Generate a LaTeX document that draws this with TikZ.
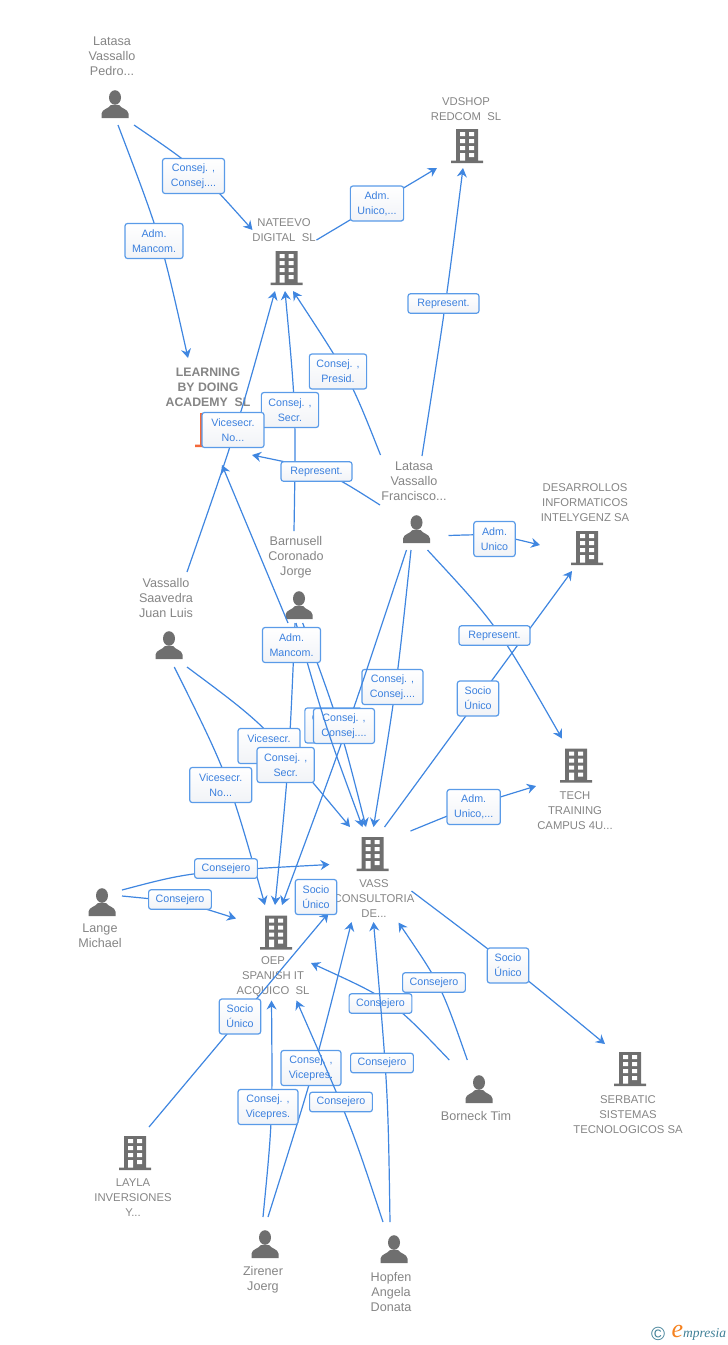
\documentclass[tikz,border=0pt]{standalone}
\usepackage{fontspec}
\setmainfont{Liberation Sans}
\newfontfamily\logofont{Liberation Serif}
\usetikzlibrary{arrows.meta}
\definecolor{txtgray}{HTML}{858585}
\definecolor{icongray}{HTML}{6F6F6F}
\definecolor{linkblue}{HTML}{3F86E0}
\definecolor{boxblue}{HTML}{5A9BE8}
\definecolor{lbltext}{HTML}{3B80DE}
\definecolor{boxlow}{HTML}{F1F3F7}
\definecolor{orangeicon}{HTML}{F4693A}
\definecolor{logoteal}{HTML}{3F7F96}
\definecolor{logoorange}{HTML}{F58220}
\tikzset{
	link/.style={draw=linkblue,line width=1.2pt},
	tolink/.style={link,-{Stealth[length=9pt,width=10pt,inset=3pt]}},
	lbl/.style={draw=boxblue,line width=1.2pt,rounded corners=2.5pt,top color=white,bottom color=boxlow,
		text=lbltext,align=center,font=\fontsize{10.7}{15}\selectfont,inner xsep=7pt,inner ysep=0pt},
	lblone/.style={lbl,minimum height=19.5pt},
	lbltwo/.style={lbl,minimum height=35pt},
	pertxt/.style={text=txtgray,align=center,inner sep=0pt,font=\fontsize{12.6}{15}\selectfont},
	comtxt/.style={text=txtgray,align=center,inner sep=0pt,yshift=-1pt,font=\fontsize{11.3}{15}\selectfont},
	person/.style={minimum width=28pt,minimum height=28pt,inner sep=0pt,path picture={
		\fill[icongray,shift={(path picture bounding box.center)}] (0,-6.5) ellipse [x radius=6,y radius=7.3]
			(-13.5,14) -- (-13.5,9.5) .. controls (-13,5) and (-6,4.5) .. (-4,1) -- (4,1) .. controls (6,4.5) and (13,5) .. (13.5,9.5) -- (13.5,14) -- cycle;}},
	building/.style={minimum width=33pt,minimum height=35pt,inner sep=0pt,path picture={
		\begin{scope}[shift={(path picture bounding box.center)}]
			\fill[#1] (-11,-17) rectangle (11,15.5) (-16,14.5) rectangle (16,17);
			\fill[white] (-7,-14) rectangle (-2,-10) (2,-14) rectangle (7,-10)
				(-7,-7) rectangle (-2,-3) (2,-7) rectangle (7,-3)
				(-7,0) rectangle (-2,4) (2,0) rectangle (7,4)
				(-7,7) rectangle (-2,14.5) (2,7) rectangle (7,11);
		\end{scope}}},
	building/.default=icongray
}
\begin{document}
\begin{tikzpicture}[x=1pt,y=-1pt]
	\useasboundingbox (0,0) rectangle (728,1345);
	% people
	\node[person] (pedro) at (115,104) {};
	\node[pertxt] (pedrotxt) at (112,56) {Latasa\\Vassallo\\Pedro...};
	\node[person] (francisco) at (416.5,529) {};
	\node[pertxt] (franciscotxt) at (414,481) {Latasa\\Vassallo\\Francisco...};
	\node[person] (barnusell) at (299,605) {};
	\node[pertxt] (barnuselltxt) at (296,557) {Barnusell\\Coronado\\Jorge};
	\node[person] (juanluis) at (169,645) {};
	\node[pertxt] (juanluistxt) at (166,598) {Vassallo\\Saavedra\\Juan Luis};
	\node[person] (lange) at (102,902) {};
	\node[pertxt] (langetxt) at (100,936) {Lange\\Michael};
	\node[person] (borneck) at (479,1089) {};
	\node[pertxt] (borntxt) at (476,1116) {Borneck Tim};
	\node[person] (zirener) at (265,1244) {};
	\node[pertxt] (zirenertxt) at (263,1279.5) {Zirener\\Joerg};
	\node[person] (hopfen) at (394,1249) {};
	\node[pertxt] (hopfentxt) at (391,1292) {Hopfen\\Angela\\Donata};
	% companies
	\node[building] (vdshop) at (467,146) {};
	\node[comtxt] (vdshoptxt) at (466,108) {VDSHOP\\REDCOM~~SL};
	\node[building] (nateevo) at (286.5,268) {};
	\node[comtxt] (nateevotxt) at (284,229.5) {NATEEVO\\DIGITAL~~SL};
	\node[building=orangeicon] (learning) at (211,430) {};
	\node[comtxt,font=\fontsize{12.3}{15}\selectfont\bfseries] (learningtxt) at (208,386) {LEARNING\\BY DOING\\ACADEMY~~SL};
	\node[building] (desarrollos) at (587,548) {};
	\node[comtxt] (desarrollostxt) at (585,502) {DESARROLLOS\\INFORMATICOS\\INTELYGENZ SA};
	\node[building] (tech) at (576,765.5) {};
	\node[comtxt] (techtxt) at (575,810) {TECH\\TRAINING\\CAMPUS 4U...};
	\node[building] (vass) at (372.5,854) {};
	\node[comtxt] (vasstxt) at (374,898) {VASS\\CONSULTORIA\\DE...};
	\node[building] (oep) at (276,932.5) {};
	\node[comtxt] (oeptxt) at (273,976) {OEP\\SPANISH IT\\ACQUICO~~SL};
	\node[building] (serbatic) at (630,1069) {};
	\node[comtxt] (serbatictxt) at (628,1114) {SERBATIC\\SISTEMAS\\TECNOLOGICOS SA};
	\node[building] (layla) at (135,1153) {};
	\node[comtxt] (laylatxt) at (133,1197) {LAYLA\\INVERSIONES\\Y...};
	% upper part
	\draw[tolink] ([shift={(19,21)}]pedro.center) .. controls (197,168) .. ([shift={(-34,-38)}]nateevo.center)
		node[lbltwo,minimum width=62pt] (consejA) at (193.5,176) {Consej. ,\\Consej....};
	\draw[tolink] ([shift={(3,21)}]pedro.center) .. controls (161,238) .. ([shift={(-23,-72)}]learning.center)
		node[lbltwo] (mancomA) at (154,241) {Adm.\\Mancom.};
	\draw[tolink] ([shift={(30,-28)}]nateevo.center) -- ([shift={(-30,22)}]vdshop.center)
		node[lbltwo] (unicoA) at (377,203.5) {Adm.\\Unico,...};
	\draw[tolink] ([shift={(5.5,-73)}]francisco.center) .. controls (446,303) .. ([shift={(-4,22)}]vdshop.center)
		node[lblone,minimum width=71pt] (represA) at (443.5,303.5) {Represent.};
	\draw[tolink] ([shift={(-36,-74)}]francisco.center) .. controls (350,378) .. ([shift={(6.5,23)}]nateevo.center)
		node[lbltwo] (presid) at (338,371.5) {Consej. ,\\Presid.};
	\draw[tolink] ([shift={(-5,-74)}]barnusell.center) .. controls (296,410) .. ([shift={(-1.5,23)}]nateevo.center)
		node[lbltwo] (secrA) at (290,410) {Consej. ,\\Secr.};
	\draw[tolink] ([shift={(18,-73)}]juanluis.center) .. controls (236.5,430) .. ([shift={(-11.5,23)}]nateevo.center)
		node[lbltwo,minimum width=62pt] (nosecA) at (233,430) {Vicesecr.\\No...};
	\draw[tolink] ([shift={(-36.5,-24)}]francisco.center) .. controls (325,470) .. ([shift={(41,25)}]learning.center)
		node[lblone,minimum width=71pt] (represB) at (316.5,471.5) {Represent.};
	% right part
	\draw[tolink] ([shift={(32,6.5)}]francisco.center) .. controls (494.5,534) .. ([shift={(-47,-3)}]desarrollos.center)
		node[lbltwo] (unicoB) at (494.5,539) {Adm.\\Unico};
	\draw[tolink] ([shift={(12,-27)}]vass.center) -- ([shift={(-15,23)}]desarrollos.center)
		node[lbltwo] (socioA) at (478,698.5) {Socio\\Único};
	\draw[tolink] ([shift={(11,21)}]francisco.center) .. controls (497,625) .. ([shift={(-14,-27)}]tech.center)
		node[lblone,minimum width=71pt] (represC) at (494.5,635.5) {Represent.};
	\draw[tolink] ([shift={(38,-23)}]vass.center) .. controls (474,805) .. ([shift={(-40,20.5)}]tech.center)
		node[lbltwo] (unicoC) at (473.7,807) {Adm.\\Unico,...};
	\draw[tolink] ([shift={(39,37)}]vass.center) .. controls (509.5,965) .. ([shift={(-25,-25)}]serbatic.center)
		node[lbltwo] (socioB) at (508,965.5) {Socio\\Único};
	% middle part
	\draw[tolink] ([shift={(-11,18)}]barnusell.center) -- ([shift={(11,35)}]learning.center);
	\draw[tolink] ([shift={(-4,18)}]barnusell.center) .. controls (289,764) .. ([shift={(-1,-27.5)}]oep.center);
	\draw[tolink] ([shift={(-5.5,21)}]francisco.center) .. controls (396.5,687) .. ([shift={(1,-27)}]vass.center)
		node[lbltwo,minimum width=61pt] (consejB) at (392.5,687) {Consej. ,\\Consej....};
	\draw[tolink] ([shift={(3.7,18)}]barnusell.center) .. controls (340,725) .. ([shift={(-6.5,-27)}]vass.center)
		node[lbltwo] (secrB) at (333.5,725.5) {Consej. ,\\Secr.};
	\draw[tolink] ([shift={(-10,21)}]francisco.center) .. controls (348,727) .. ([shift={(6,-27.5)}]oep.center)
		node[lbltwo,minimum width=61pt] (consejC) at (344,726) {Consej. ,\\Consej....};
	\draw[tolink] ([shift={(-3,18)}]barnusell.center) .. controls (325,725) .. ([shift={(-10,-27)}]vass.center)
		node[lbltwo] (mancomB) at (291.5,645) {Adm.\\Mancom.};
	\draw[tolink] ([shift={(18,22)}]juanluis.center) .. controls (265,725) .. ([shift={(-22.5,-27)}]vass.center)
		node[lbltwo,minimum width=62pt] (nosecB) at (269,746) {Vicesecr.\\No...};
	\node[lbltwo] (secrC) at (285.7,765) {Consej. ,\\Secr.};
	\draw[tolink] ([shift={(5.3,22)}]juanluis.center) .. controls (228,775) .. ([shift={(-11,-27.5)}]oep.center)
		node[lbltwo,minimum width=62pt] (nosecC) at (220.7,785) {Vicesecr.\\No...};
	\draw[tolink] ([shift={(20,-12)}]lange.center) .. controls (190,872) .. ([shift={(-43,10.5)}]vass.center)
		node[lblone] (consejeroA) at (226,868.5) {Consejero};
	\draw[tolink] ([shift={(20,-6)}]lange.center) .. controls (184,902) .. ([shift={(-40,-14)}]oep.center)
		node[lblone] (consejeroB) at (180,899.5) {Consejero};
	% lower part
	\draw[tolink] ([shift={(14,-26)}]layla.center) -- ([shift={(-44,59)}]vass.center)
		node[lbltwo] (socioC) at (240,1016.5) {Socio\\Único}
		node[lbltwo] (socioD) at (316,897) {Socio\\Único};
	\draw[tolink] ([shift={(-11.7,-29)}]borneck.center) .. controls (441,985) .. ([shift={(26,68.5)}]vass.center)
		node[lblone] (consejeroC) at (434,982.5) {Consejero};
	\draw[tolink] ([shift={(-29.7,-29)}]borneck.center) .. controls (392,1000) .. ([shift={(35,30.5)}]oep.center)
		node[lblone] (consejeroD) at (380.5,1003.5) {Consejero};
	\draw[tolink] ([shift={(3,-27)}]zirener.center) .. controls (315,1068) .. ([shift={(-21,68)}]vass.center)
		node[lbltwo,minimum width=60pt] (viceA) at (311,1068) {Consej. ,\\Vicepres.};
	\draw[tolink] ([shift={(-4,-27)}]hopfen.center) .. controls (388,1090) .. ([shift={(1,68)}]vass.center)
		node[lblone] (consejeroE) at (382,1063) {Consejero};
	\draw[tolink] ([shift={(-2,-27)}]zirener.center) .. controls (272.5,1120) .. ([shift={(-4.5,68)}]oep.center)
		node[lbltwo,minimum width=60pt] (viceB) at (268,1107) {Consej. ,\\Vicepres.};
	\draw[tolink] ([shift={(-11,-27)}]hopfen.center) .. controls (351,1125) .. ([shift={(20.5,68)}]oep.center)
		node[lblone] (consejeroF) at (341,1102) {Consejero};
	% logo
	\node[text=logoteal,font=\fontsize{19}{19}\selectfont] (logoc) at (658,1334) {©};
	\node[text=logoorange,font=\logofont\itshape\fontsize{26}{26}\selectfont] (logoe) at (677.5,1331) {e};
	\node[text=logoteal,font=\logofont\itshape\fontsize{13.5}{14}\selectfont] (logot) at (704.5,1334) {mpresia};
\end{tikzpicture}
\end{document}
